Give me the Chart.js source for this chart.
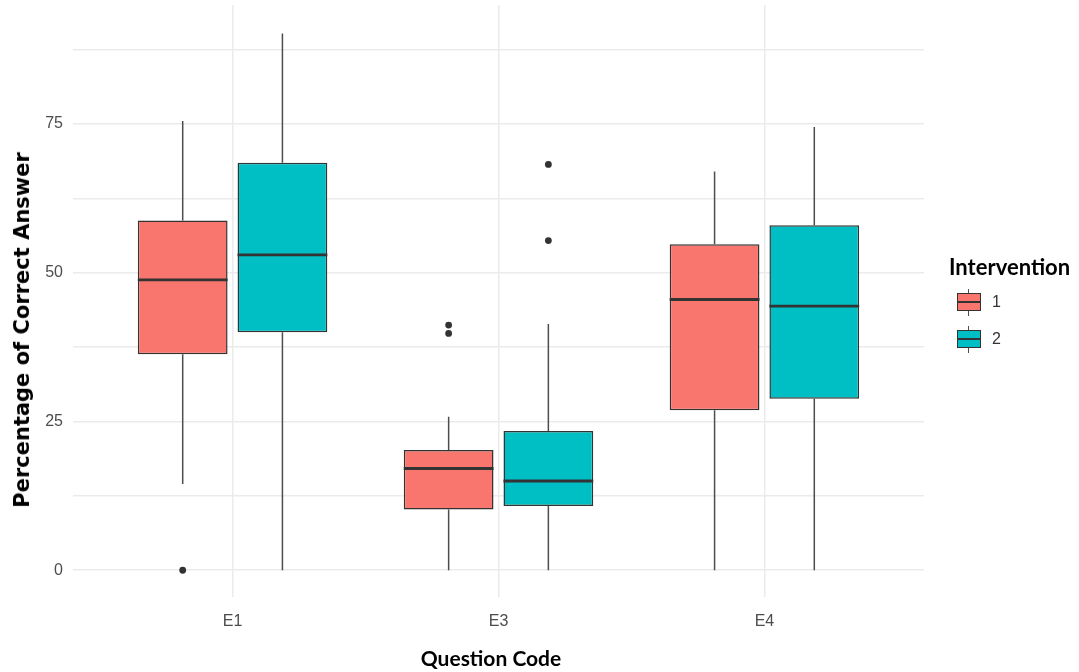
<!DOCTYPE html>
<html>
<head>
<meta charset="utf-8">
<title>Percentage of Correct Answer by Question Code</title>
<script src="https://cdn.jsdelivr.net/npm/chart.js@4.4.1/dist/chart.umd.min.js"></script>
<style>
    html, body { margin: 0; padding: 0; background: #fff; }
    #wrap { position: relative; width: 1079px; height: 672px; }
    #boxChart { position: absolute; left: 0; top: 0; }
    .y-title {
        position: absolute; left: 22px; top: 330px;
        transform: translate(-50%, -50%) rotate(-90deg);
        font: bold 21px 'DejaVu Sans', sans-serif; color: #000; white-space: nowrap;
    }
    .x-title {
        position: absolute; left: 491px; top: 657px;
        transform: translate(-50%, -50%);
        font: bold 21px Lato, sans-serif; color: #000; white-space: nowrap;
    }
    .legend-title {
        position: absolute; left: 949px; top: 253px;
        font: bold 22px Lato, sans-serif; color: #000; white-space: nowrap;
    }
    .key { position: absolute; left: 957px; width: 24px; height: 26px; }
    .key .wh { position: absolute; left: 11px; width: 1px; height: 5px; background: #4d4d4d; }
    .key .bx { position: absolute; left: 0; top: 4px; width: 22px; height: 16px; border: 1px solid #333; }
    .key .md { position: absolute; left: 0; top: 7px; width: 22px; height: 2px; background: #333; }
    .key-label {
        position: absolute; left: 992px;
        font: 16px 'Liberation Sans', Arial, sans-serif; color: #333;
    }
</style>
</head>
<body>
<div id="wrap">
    <canvas id="boxChart" width="1079" height="672"></canvas>
    <div class="y-title">Percentage of Correct Answer</div>
    <div class="x-title">Question Code</div>
    <div class="legend-title">Intervention</div>
    <div id="legend"></div>
</div>
<script>
// Kategorien und Gruppen
const categories = ['E1', 'E3', 'E4'];
const groups = ['1', '2'];
const groupColors = ['#F8766D', '#00BFC4'];
const yTicks = [0, 25, 50, 75];

// Intervention 1 (Boxplot-Kennwerte je Kategorie)
const low1 = [14.5, 0, 0];
const lowerQ1 = [36.3, 10.2, 26.9];
const median1 = [48.8, 17.1, 45.5];
const upperQ1 = [58.8, 20.2, 54.8];
const high1 = [75.5, 25.8, 67.0];
const outliers1 = [[0], [41.2, 39.8], []];

// Intervention 2
const low2 = [0, 0, 0];
const lowerQ2 = [40.0, 10.8, 28.8];
const median2 = [53.0, 15.0, 44.4];
const upperQ2 = [68.5, 23.4, 58.0];
const high2 = [90.2, 41.4, 74.5];
const outliers2 = [[], [68.2, 55.4], []];

const stats = [
    { low: low1, q1: lowerQ1, med: median1, q3: upperQ1, high: high1, out: outliers1 },
    { low: low2, q1: lowerQ2, med: median2, q3: upperQ2, high: high2, out: outliers2 }
];

// Dodge wie bei ggplot (Breite 0.75, Padding 0.1)
const DODGE = 0.1875;
const HALF_BOX = 0.16875;
const LINE_COLOR = '#333333';

function buildDatasets() {
    const datasets = [];
    stats.forEach((s, g) => {
        const off = g === 0 ? -DODGE : DODGE;
        const pos = categories.map((c, i) => i + 1 + off);

        datasets.push({
            type: 'bar',
            label: groups[g],
            data: pos.map((x, i) => ({ x: x, y: [s.q1[i], s.q3[i]] })),
            backgroundColor: groupColors[g],
            borderColor: LINE_COLOR,
            borderWidth: 1.5,
            borderSkipped: false,
            grouped: false,
            categoryPercentage: 1,
            barPercentage: 0.9,
            order: 1
        });

        const whiskers = [];
        pos.forEach((x, i) => {
            whiskers.push({ x: x, y: s.q3[i] }, { x: x, y: s.high[i] }, { x: x, y: null });
            whiskers.push({ x: x, y: s.low[i] }, { x: x, y: s.q1[i] }, { x: x, y: null });
        });
        datasets.push({
            type: 'line',
            label: 'whisker' + groups[g],
            data: whiskers,
            borderColor: '#4d4d4d',
            borderWidth: 1.5,
            pointRadius: 0,
            spanGaps: false,
            order: 2
        });

        const medians = [];
        pos.forEach((x, i) => {
            medians.push({ x: x - HALF_BOX, y: s.med[i] }, { x: x + HALF_BOX, y: s.med[i] }, { x: x, y: null });
        });
        datasets.push({
            type: 'line',
            label: 'median' + groups[g],
            data: medians,
            borderColor: LINE_COLOR,
            borderWidth: 2.8,
            borderCapStyle: 'butt',
            pointRadius: 0,
            spanGaps: false,
            order: 0
        });

        const points = [];
        pos.forEach((x, i) => {
            s.out[i].forEach(v => points.push({ x: x, y: v }));
        });
        datasets.push({
            type: 'scatter',
            label: 'outlier' + groups[g],
            data: points,
            backgroundColor: LINE_COLOR,
            borderColor: LINE_COLOR,
            pointRadius: 3.4,
            pointBorderWidth: 0,
            order: 0
        });
    });
    return datasets;
}

const tickFont = { family: "'Liberation Sans', Arial, sans-serif", size: 16 };

function initChart() {
    const ctx = document.getElementById('boxChart');
    new Chart(ctx, {
        type: 'bar',
        data: { datasets: buildDatasets() },
        options: {
            responsive: false,
            animation: false,
            layout: { padding: { top: 5, right: 155, left: 0, bottom: 0 } },
            plugins: {
                legend: { display: false },
                tooltip: { enabled: false }
            },
            scales: {
                x: {
                    type: 'linear',
                    offset: false,
                    min: 0.4,
                    max: 3.6,
                    afterBuildTicks: scale => {
                        scale.ticks = categories.map((c, i) => ({ value: i + 1 }));
                    },
                    afterFit: scale => {
                        scale.height = 75;
                        scale.paddingLeft = 0;
                        scale.paddingRight = 0;
                    },
                    ticks: {
                        font: tickFont,
                        color: '#4d4d4d',
                        padding: 15,
                        autoSkip: false,
                        maxRotation: 0,
                        callback: value => categories[value - 1]
                    },
                    grid: { color: '#ebebeb', lineWidth: 1.5, drawTicks: false, offset: false },
                    border: { display: false }
                },
                y: {
                    type: 'linear',
                    min: -4.5,
                    max: 95,
                    afterBuildTicks: scale => {
                        const t = [];
                        for (let v = 0; v <= 87.5; v += 12.5) t.push({ value: v });
                        scale.ticks = t;
                    },
                    afterFit: scale => {
                        scale.width = 73;
                        scale.paddingTop = 0;
                        scale.paddingBottom = 0;
                    },
                    ticks: {
                        font: tickFont,
                        color: '#4d4d4d',
                        padding: 10,
                        autoSkip: false,
                        callback: value => yTicks.includes(value) ? String(value) : ''
                    },
                    grid: { color: '#ebebeb', lineWidth: 1.5, drawTicks: false },
                    border: { display: false }
                }
            }
        }
    });
}

// Legende mit Boxplot-Symbolen
function buildLegend() {
    const legend = document.getElementById('legend');
    const keyTops = [289, 326];
    groups.forEach((g, i) => {
        const top = keyTops[i];
        legend.insertAdjacentHTML('beforeend', `
            <div class="key" style="top:${top}px">
                <div class="wh" style="top:0"></div>
                <div class="bx" style="background:${groupColors[i]}">
                    <div class="md"></div>
                </div>
                <div class="wh" style="top:22px"></div>
            </div>
            <div class="key-label" style="top:${top + 4}px">${g}</div>
        `);
    });
}

initChart();
buildLegend();
</script>
</body>
</html>
